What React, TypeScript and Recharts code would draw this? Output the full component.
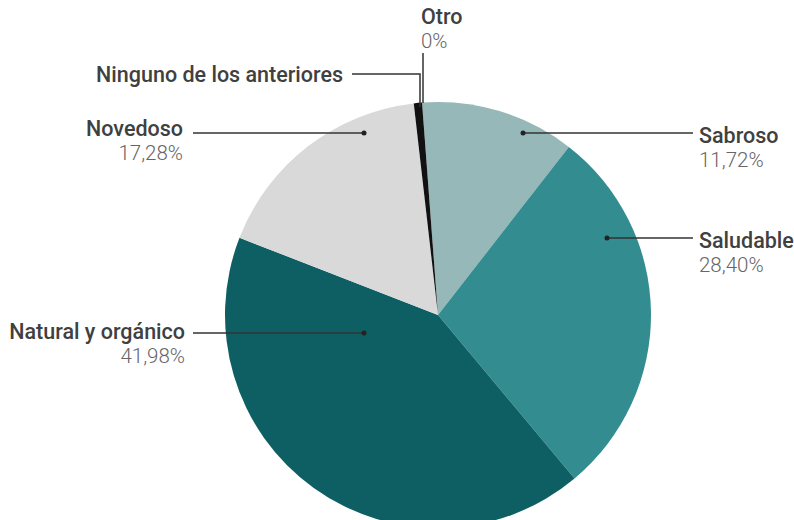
import { PieChart, Pie, Cell } from "recharts"

// categories and shares (%), clockwise from the top
const categories = ["Sabroso", "Saludable", "Natural y orgánico", "Novedoso", "Ninguno de los anteriores", "Otro"]
const shares = [11.72, 28.4, 41.98, 17.28, 0.62, 0]
const sliceColors = ["#96b8b8", "#338d90", "#0e5f63", "#d9d9d9", "#111111", "#888888"]

// where each leader line starts / turns / ends, relative to the pie centre
const leaders = [
  { dot: [85, -182], row: -182, end: 255, textX: 261, anchor: "start", y1: 10, y2: 34 },
  { dot: [169, -77], row: -77, end: 255, textX: 261, anchor: "start", y1: 10, y2: 34 },
  { dot: [-74, 18], row: 18, end: -245, textX: -253, anchor: "end", y1: 6, y2: 30 },
  { dot: [-74, -182], row: -182, end: -245, textX: -255, anchor: "end", y1: 3, y2: 27 },
  { dot: [-18, -208], row: -241, end: -86, textX: -95, anchor: "end", y1: 8, y2: null },
  { dot: [-15, -212], row: -262, end: -15, textX: -17, anchor: "start", y1: -29, y2: -5 },
]

const data = categories.map((name, i) => ({ name, value: shares[i] }))

const CX = 438
const CY = 315
const R = 213

const fmt = (v: number) => (v === 0 ? "0%" : v.toFixed(2).replace(".", ",") + "%")

function renderLabel(props: any) {
  const { index } = props
  const cx = props.cx ?? CX
  const cy = props.cy ?? CY
  const l = leaders[index]
  if (!l) return null
  const dx = cx + l.dot[0]
  const dy = cy + l.dot[1]
  const ry = cy + l.row
  const ex = cx + l.end
  const path = `M${dx},${dy} V${ry} H${ex}`
  const showDot = index < 4
  return (
    <g key={`lbl-${index}`}>
      <path d={path} fill="none" stroke="#333" strokeWidth={1.5} />
      {showDot && <circle cx={dx} cy={dy} r={2.5} fill="#222" />}
      <text
        x={cx + l.textX}
        y={ry + l.y1}
        textAnchor={l.anchor}
        fontFamily="Roboto, sans-serif"
        fontSize={21.5}
        fontWeight={500}
        fill="#404040"
      >
        {categories[index]}
      </text>
      {l.y2 !== null && (
        <text
          x={cx + l.textX}
          y={ry + l.y2}
          textAnchor={l.anchor}
          fontFamily="Roboto, sans-serif"
          fontSize={20.5}
          fontWeight={300}
          fill="#666"
        >
          {fmt(shares[index])}
        </text>
      )}
    </g>
  )
}

export default function App() {
  return (
    <div style={{ position: "absolute", left: 0, top: 0, width: 794, height: 520, background: "#fff" }}>
      <PieChart width={794} height={520} margin={{ top: 0, right: 0, bottom: 0, left: 0 }}>
        <Pie
          data={data}
          dataKey="value"
          nameKey="name"
          cx={CX}
          cy={CY}
          outerRadius={R}
          startAngle={94.3}
          endAngle={-265.7}
          stroke="none"
          label={renderLabel}
          labelLine={false}
          isAnimationActive={false}
        >
          {data.map((d, i) => (
            <Cell key={d.name} fill={sliceColors[i]} />
          ))}
        </Pie>
      </PieChart>
    </div>
  )
}
